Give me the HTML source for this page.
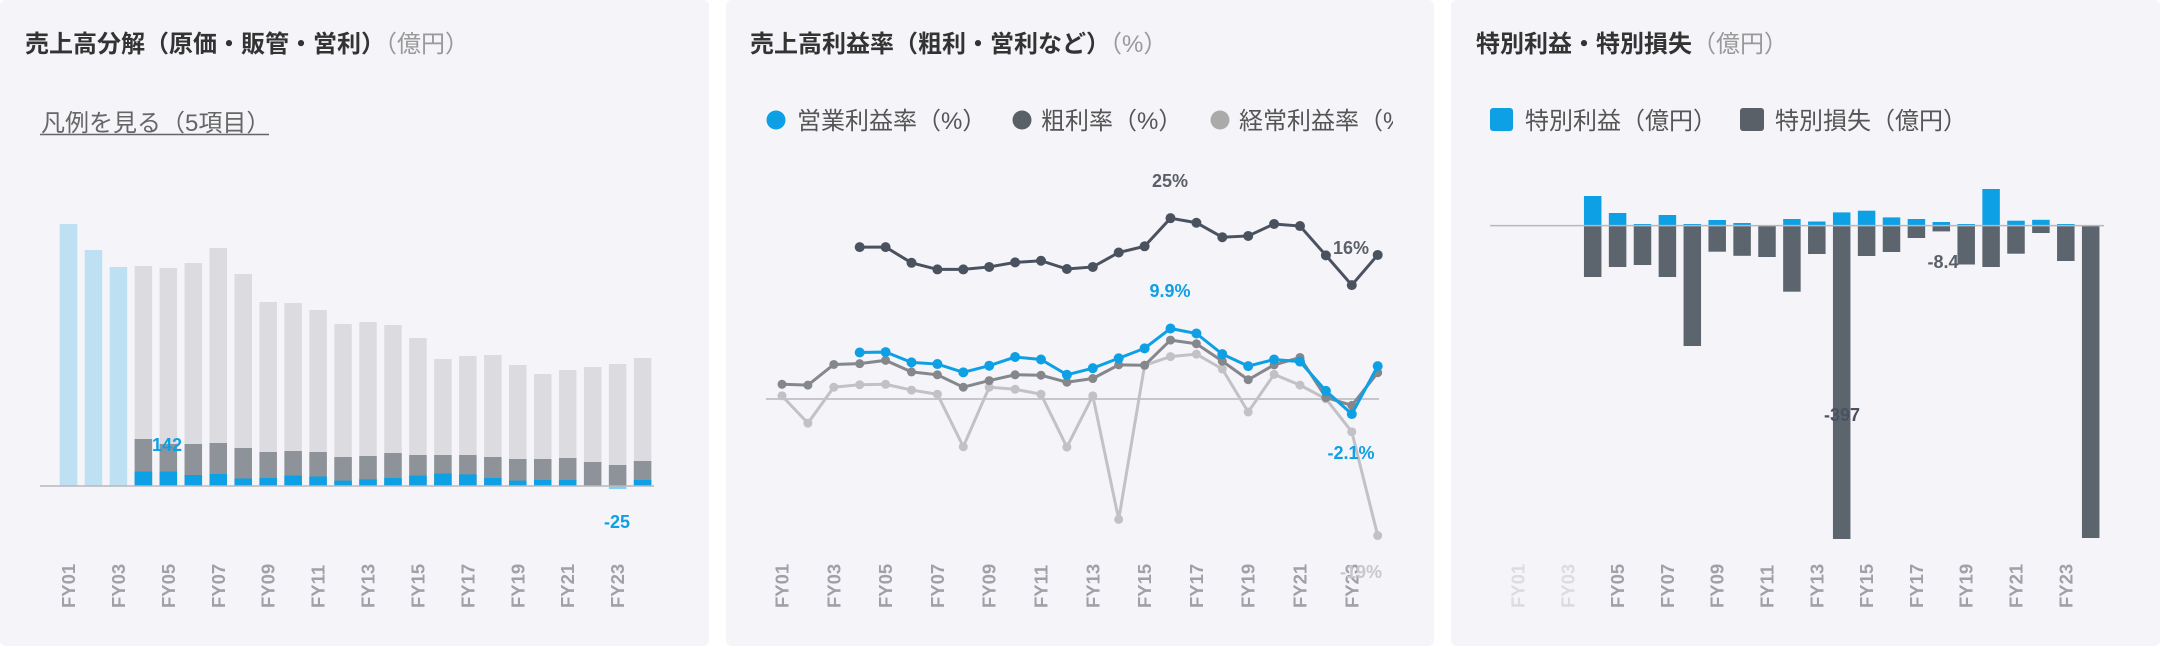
<!DOCTYPE html>
<html><head><meta charset="utf-8">
<style>
html,body{margin:0;padding:0;background:#fff;width:2160px;height:648px;overflow:hidden}
svg{display:block}
text{font-family:"Liberation Sans","Noto Sans CJK JP",sans-serif}
</style></head><body>
<svg id="s" width="2160" height="648" xmlns="http://www.w3.org/2000/svg">
<rect x="0" y="0" width="709" height="646" rx="6" fill="#f4f4f9"/>
<rect x="726" y="0" width="708" height="646" rx="6" fill="#f4f4f9"/>
<rect x="1451" y="0" width="709" height="646" rx="6" fill="#f4f4f9"/>
<text x="25" y="52" font-size="24" font-weight="bold" fill="#333">売上高分解（原価・販管・営利）<tspan font-weight="normal" fill="#999">（億円）</tspan></text>
<text x="41" y="131" font-size="24" fill="#666">凡例を見る（5項目）</text>
<line x1="40" y1="134.5" x2="269" y2="134.5" stroke="#666" stroke-width="1.5"/>
<text x="750" y="52" font-size="24" font-weight="bold" fill="#333">売上高利益率（粗利・営利など）<tspan font-weight="normal" fill="#999">（%）</tspan></text>
<circle cx="776" cy="120" r="9.5" fill="#0ea0e4"/><text x="797" y="129" font-size="24" fill="#555">営業利益率（%）</text>
<circle cx="1022" cy="120" r="9.5" fill="#5a6068"/><text x="1041" y="129" font-size="24" fill="#555">粗利率（%）</text>
<circle cx="1220" cy="120" r="9.5" fill="#aaa"/>
<svg x="1239" y="95" width="154" height="45"><text x="0" y="34" font-size="24" fill="#555">経常利益率（%）</text></svg>
<text x="1476" y="52" font-size="24" font-weight="bold" fill="#333">特別利益・特別損失<tspan font-weight="normal" fill="#999">（億円）</tspan></text>
<rect x="1490" y="108" width="23" height="23" rx="3" fill="#0ea0e4"/><text x="1525" y="129" font-size="24" fill="#555">特別利益（億円）</text>
<rect x="1740" y="108" width="24" height="23" rx="3" fill="#5a6068"/><text x="1775" y="129" font-size="24" fill="#555">特別損失（億円）</text>
<g id="g"></g>
</svg>
<script>
var g=document.getElementById('g'),h='';
function R(x,y,w,hh,c){if(hh<0){y+=hh;hh=-hh;}h+='<rect x="'+x+'" y="'+y+'" width="'+w+'" height="'+hh+'" fill="'+c+'"/>';}
function T(x,y,t,c,a,s){h+='<text x="'+x+'" y="'+y+'" font-size="'+(s||18)+'" font-weight="bold" fill="'+c+'" text-anchor="'+(a||'middle')+'">'+t+'</text>';}
function L(x,y,t,c){h+='<text transform="translate('+(x+6.5)+',608) rotate(-90)" font-size="18.5" font-weight="bold" fill="'+c+'">'+t+'</text>';}
var B=486,tot=[224,250,267,266,268,263,248,274,302,303,310,324,322,325,338,359,356,355,365,374,370,367,364,358];
var dk=[0,0,0,439,444,444,443,448,452,451,452,457,456,453,455,455,455,457,459,459,458,462,465,461];
var bl=[0,0,0,471.5,471.5,475,474,478.5,478,475.6,476.5,480.6,479.3,478,475.6,473.5,474.4,478,480.6,480,480,486,489,480];
for(var i=0;i<24;i++){var cx=68.5+i*24.96,x=cx-8.75;
 if(i<3){R(x,tot[i],17.5,B-tot[i],'#bde0f3');}
 else{R(x,tot[i],17.5,B-tot[i],'#dcdce0');R(x,dk[i],17.5,B-dk[i],'#8e9399');
  if(i==22)R(x,B,17.5,3,'#7fd0f5');else R(x,bl[i],17.5,B-bl[i],'#0ea0e4');}
 if(i%2==0)L(cx,0,'FY'+('0'+(i+1)).slice(-2),'#a0a0a8');}
h+='<line x1="40" y1="486" x2="654" y2="486" stroke="#b8b8bc" stroke-width="1.5"/>';
T(167,451,'142','#0ea0e4');T(617,528,'-25','#0ea0e4');
function px(i){return 782+i*25.9;}function py(v){return v/2.42;}
function line(arr,st,c,r,w){var p=[];for(var i=0;i<arr.length;i++)p.push(px(i+st)+','+py(arr[i]));
 h+='<polyline points="'+p.join(' ')+'" fill="none" stroke="'+c+'" stroke-width="'+w+'"/>';
 for(var i=0;i<arr.length;i++)h+='<circle cx="'+px(i+st)+'" cy="'+py(arr[i])+'" r="'+r+'" fill="'+c+'"/>';}
h+='<line x1="766" y1="399" x2="1379" y2="399" stroke="#b8b8bc" stroke-width="1.5"/>';
line([958,1024,937,931,930,944,954,1081,937,942,954,1082,958,1257,884,863,857,893,997,906,932,965,1045,1296],0,'#c2c2c6',4.5,3);
line([930,932,882,880,872,900,907,937,921,907,908,925,916,883,884,823,832,874,919,883,865,962,981,902],0,'#84878c',4.5,3);
line([598,598,636,652,652,646,635,631,651,646,611,596,528,539,574,571,542,547,618,690,617],3,'#4a5260',5,3);
line([853,852,877,881,901,885,864,870,907,891,867,843,795,807,857,886,870,875,946,1002,886],3,'#0ea0e4',5,3);
for(var i=0;i<24;i+=2)L(px(i),0,'FY'+('0'+(i+1)).slice(-2),'#a0a0a8');
T(1170,187,'25%','#5a6068');T(1351,254,'16%','#5a6068');T(1170,297,'9.9%','#0ea0e4');T(1351,459,'-2.1%','#0ea0e4');
h+='<svg x="1340" y="550" width="53" height="40"><text x="0" y="28" font-size="18" font-weight="bold" fill="#c8c8cc">-19%</text></svg>';
var Z=225.6,bt=[0,0,0,196,213,224,215,224,220,223,0,219,221.5,212.4,210.7,217.4,219,222,224,189,220.7,219.8,224,0];
var db=[0,0,0,277,267,265,277,346,251.7,255.8,257,291.7,254,539,256,252,238,231.4,264.5,267,253.7,233,261,538];
for(var i=0;i<24;i++){var cx=1518+i*24.9,x=cx-8.75;
 if(bt[i])R(x,bt[i],17.5,Z-bt[i],'#0ea0e4');
 if(db[i])R(x,Z,17.5,db[i]-Z,'#5c646e');
 if(i%2==0)L(cx,0,'FY'+('0'+(i+1)).slice(-2),i<3?'#dcdce0':'#a0a0a8');}
h+='<line x1="1490" y1="225.6" x2="2104" y2="225.6" stroke="#b8b8bc" stroke-width="1.5"/>';
T(1943,268,'-8.4','#5a6068');T(1842,421,'-397','#4a5260');
g.innerHTML=h;
</script>
</body></html>
